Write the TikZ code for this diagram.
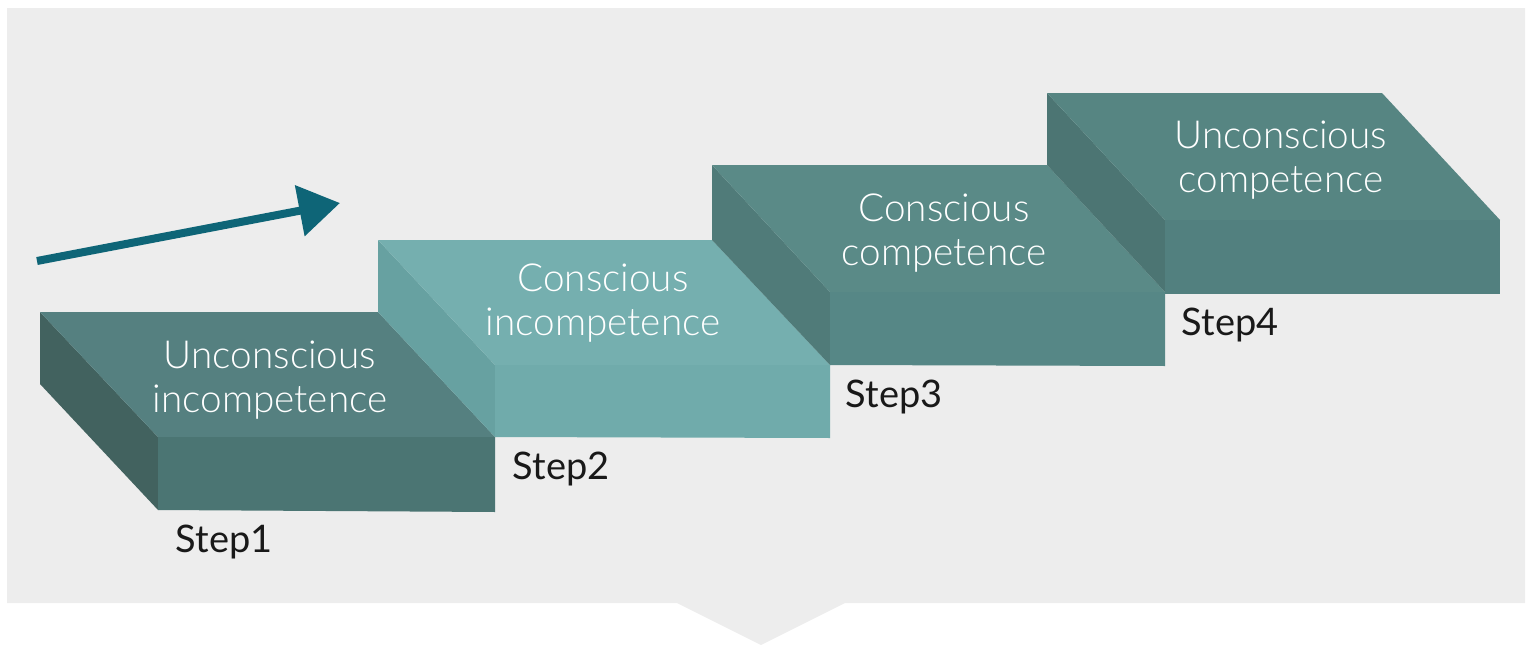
\documentclass[tikz,border=0pt]{standalone}
\usepackage{fontspec}
\setmainfont{Lato}
\newfontfamily\lightfont{Lato Light}
\usetikzlibrary{arrows.meta}

\definecolor{panel}{HTML}{EDEDED}
\definecolor{arrowteal}{HTML}{0E6577}
% dark steps: left side, top, front
\definecolor{sideA}{HTML}{42625F}
\definecolor{topA}{HTML}{558080}
\definecolor{frontA}{HTML}{4B7573}
% light step
\definecolor{sideB}{HTML}{67A1A1}
\definecolor{topB}{HTML}{75AFAF}
\definecolor{frontB}{HTML}{70ABAB}
% upper steps
\definecolor{sideC}{HTML}{507B79}
\definecolor{topC}{HTML}{5A8A87}
\definecolor{frontC}{HTML}{568786}

\begin{document}
\begin{tikzpicture}[x=0.1mm, y=-0.1mm,
  steptext/.style={align=center, text=white, font=\lightfont\fontsize{11}{12.5}\selectfont},
  steplabel/.style={anchor=base west, inner sep=0pt, text=black!90, font=\fontsize{10.8}{13}\selectfont}]
\useasboundingbox (0,0) rectangle (1531,646);

% grey panel with the notch at the bottom
\fill[panel] (7,8) -- (1525,8) -- (1525,603) -- (845,603) -- (761,645)
  -- (677,603) -- (7,603) -- cycle;

% arrow
\coordinate (a0) at (37,261);
\coordinate (a1) at (340,203);
\draw[arrowteal, line width=0.8mm, -{Triangle[length=4.1mm, width=5mm]}] (a0) -- (a1);

% step 1
\fill[sideA] (40,312) -- (158,437) -- (158,510) -- (40,384) -- cycle;
\fill[topA] (40,312) -- (378,312) -- (495,437) -- (158,437) -- cycle;
\fill[frontA] (158,437) -- (495,437) -- (495,512) -- (158,510) -- cycle;

% step 2
\fill[sideB] (378,240) -- (495,365) -- (495,437) -- (378,312) -- cycle;
\fill[topB] (378,240) -- (712,240) -- (830,365) -- (495,365) -- cycle;
\fill[frontB] (495,365) -- (830,365) -- (830,438) -- (495,437) -- cycle;

% step 3
\fill[sideC] (712,165) -- (830,292) -- (830,365) -- (712,240) -- cycle;
\fill[topC] (712,165) -- (1047,165) -- (1165,292) -- (830,292) -- cycle;
\fill[frontC] (830,292) -- (1165,292) -- (1165,366) -- (830,365) -- cycle;

% step 4
\fill[sideC!95!black] (1047,93) -- (1165,220) -- (1165,292) -- (1047,165) -- cycle;
\fill[topC!96!black] (1047,93) -- (1382,93) -- (1500,220) -- (1165,220) -- cycle;
\fill[frontC!95!black] (1165,220) -- (1500,220) -- (1500,294) -- (1165,294) -- cycle;

% texts on the tops
\node[steptext] (s1) at (270,380) {Unconscious\\incompetence};
\node[steptext] (s2) at (603,303) {Conscious\\incompetence};
\node[steptext] (s3) at (944,233) {Conscious\\competence};
\node[steptext] (s4) at (1281,160) {Unconscious\\competence};

% step names
\node[steplabel] (l1) at (175,552) {Step1};
\node[steplabel] (l2) at (512,479) {Step2};
\node[steplabel] (l3) at (845,407) {Step3};
\node[steplabel] (l4) at (1181,335) {Step4};
\end{tikzpicture}
\end{document}
